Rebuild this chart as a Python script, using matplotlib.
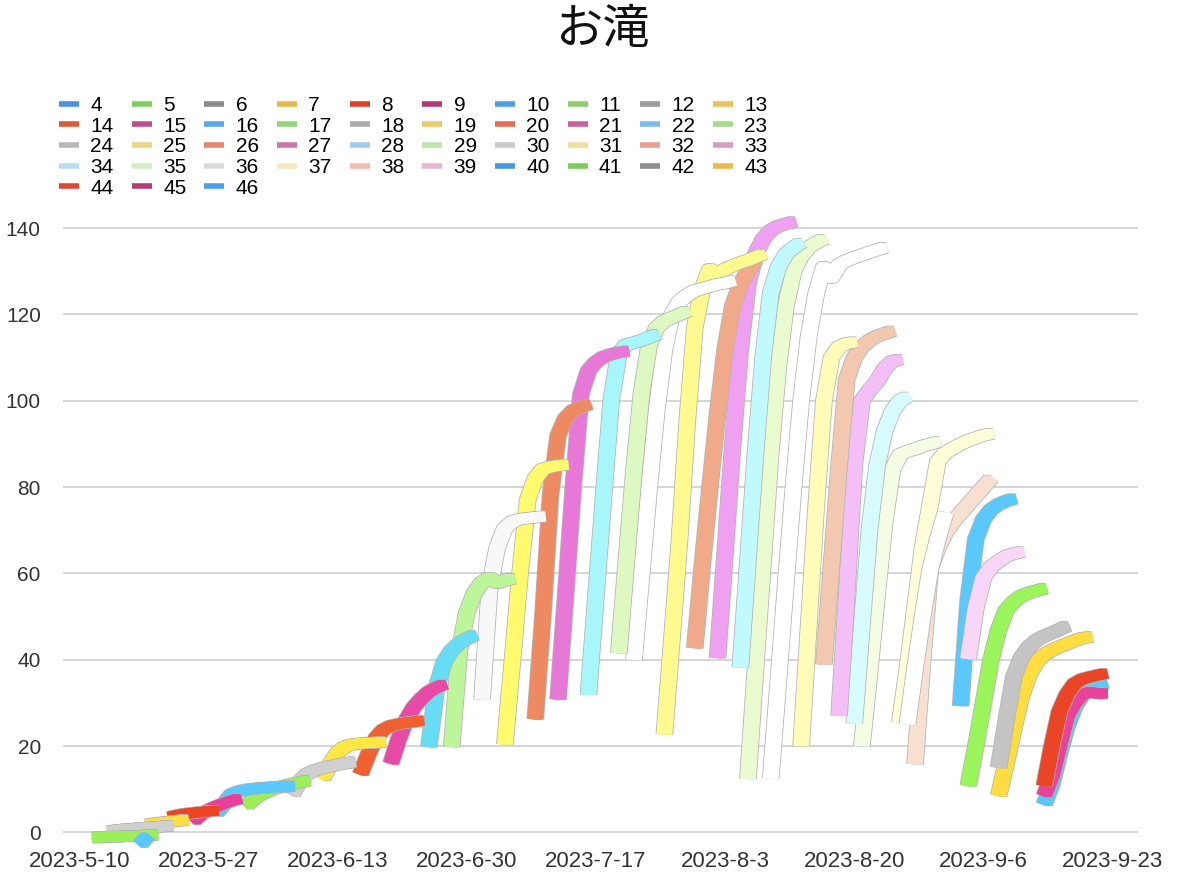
import datetime as dt
import numpy as np
import matplotlib
matplotlib.use("Agg")
import matplotlib.pyplot as plt
import matplotlib.dates as mdates
import matplotlib.transforms as mtransforms
from matplotlib.lines import Line2D
from matplotlib.ticker import FixedLocator, FuncFormatter

plt.rcParams['font.family'] = ['Liberation Sans', 'Noto Sans CJK JP', 'DejaVu Sans']

# ---------------- data ----------------
title = "お滝"
series_names = [str(i) for i in range(4, 47)]
start_dates = [
    "2023-05-18", "2023-05-12", "2023-05-14", "2023-05-19", "2023-05-22", "2023-05-25",  # 4-9
    "2023-05-28", "2023-06-01", "2023-06-07", "2023-06-11", "2023-06-16", "2023-06-20",  # 10-15
    "2023-06-25", "2023-06-28", "2023-07-02", "2023-07-05", "2023-07-09", "2023-07-12",  # 16-21
    "2023-07-16", "2023-07-20", "2023-07-22", "2023-07-26", "2023-07-30", "2023-08-02",  # 22-27
    "2023-08-05", "2023-08-06", "2023-08-09", "2023-08-13", "2023-08-16", "2023-08-18",  # 28-33
    "2023-08-20", "2023-08-21", "2023-08-27", "2023-08-26", "2023-08-28", "2023-09-04",  # 34-39
    "2023-09-03", "2023-09-04", "2023-09-08", "2023-09-08", "2023-09-14", "2023-09-14",  # 40-45
    "2023-09-14",                                                                      # 46
]
v4 = [-2.8, -0.8]
v5 = [-1.2, -1.1, -1.0, -1.0, -0.9, -0.9, -0.8, -0.7, -0.6]
v6 = [0.3, 0.5, 0.7, 0.8, 1.0, 1.1, 1.2, 1.4, 1.5]
v7 = [1.8, 2.1, 2.3, 2.5, 2.7, 2.9]
v8 = [3.6, 4.0, 4.3, 4.5, 4.7, 4.9, 5.0]
v9 = [2.6, 4.2, 5.2, 6.0, 6.7, 7.3, 7.8]
v10 = [4.4, 6.5, 8.8, 9.5, 9.9, 10.1, 10.3, 10.4, 10.5, 10.6, 10.7]
v11 = [6.2, 7.8, 8.9, 9.7, 10.3, 10.8, 11.2, 11.6, 12.0]
v12 = [8.8, 11.8, 13.6, 14.4, 14.9, 15.3, 15.7, 16.0, 16.3]
v13 = [12.5, 15.8, 18.6, 19.9, 20.4, 20.6, 20.7, 20.8, 20.9]
v14 = [13.5, 18.0, 21.8, 23.8, 24.7, 25.1, 25.4, 25.6, 25.9]
v15 = [16.0, 21.5, 26.0, 29.0, 31.0, 32.6, 33.6, 34.3]
v16 = [19.8, 33.5, 39.5, 42.2, 43.8, 44.9, 45.7]
v17 = [19.8, 42, 51, 55.5, 58, 59, 57.8, 58.4, 58.8]
v18 = [30.8, 57, 66, 70.5, 72, 72.6, 72.8, 73.0, 73.2]
v19 = [20.4, 40, 60, 77, 82, 84.2, 84.7, 85, 85.2]
v20 = [26.2, 50, 78, 92, 96, 97.8, 98.5, 99.2]
v21 = [30.8, 55, 80, 101.5, 107, 109, 110.2, 110.8, 111.2, 111.5]
v22 = [31.9, 55, 78, 100, 111, 113, 113.5, 114, 114.7, 115.4]
v23 = [41.5, 63, 84, 102, 113, 117, 118.5, 119.3, 120, 120.8]
v24 = [40, 60, 80, 98, 112, 120, 123, 124.5, 125.5, 126, 126.5, 127, 127.3, 127.8]
v25 = [22.7, 45, 68, 95, 117, 126, 130.5, 129, 130.5, 131.3, 132, 132.6, 133.3, 134]
v26 = [42.7, 62, 80, 97, 112, 122, 127, 130, 132.6]
v27 = [40.4, 65, 90, 112, 127, 134, 137.5, 139.5, 140.5, 141, 141.5]
v28 = [38.2, 63, 88, 110, 125, 131, 134, 135.5, 136.7]
v29 = [12.4, 38, 63, 88, 108, 122, 130, 133.5, 135.5, 136.7, 137.5]
v30 = [12.5, 35, 58, 80, 100, 115, 125, 131, 128.5, 131.5, 132.5, 133.2, 133.8, 134.4, 135, 135.5]
v31 = [20, 48, 76, 100, 110, 112.5, 113.3, 113.6]
v32 = [38.9, 62, 85, 105, 110, 112.5, 114, 115, 115.6, 116.2]
v33 = [27, 55, 85, 100, 102.5, 104.5, 107.5, 109.2, 109.6]
v34 = [25.2, 48, 70, 85, 93, 97.5, 100, 101]
v35 = [20, 37, 55, 72, 84, 87.5, 88.3, 88.8, 89.5, 90, 90.5]
v36 = [25, 38, 50, 61, 68, 74]
v37 = [25.5, 38, 52, 66, 76, 86, 88, 89, 90, 90.8, 91.4, 92, 92.4]
v38 = [15.8, 40, 61, 66, 69.5, 72, 74, 76, 78, 80, 82]
v39 = [40.2, 52, 59, 61.5, 62.8, 64, 64.6, 65]
v40 = [29.3, 54, 68, 72.5, 74.8, 76, 76.8, 77.3]
v41 = [10.8, 20, 30, 40, 47, 51.5, 53.5, 54.8, 55.5, 56, 56.5]
v42 = [15, 26, 36, 40.5, 43, 44.5, 45.5, 46.2, 47, 47.8]
v43 = [8.5, 16, 24, 31.5, 36.5, 39.5, 41.2, 42.2, 43, 43.7, 44.4, 45, 45.3]
v44 = [10.8, 20, 28, 32, 34.5, 35.5, 36, 36.4, 36.8]
v45 = [8.5, 13, 20, 27, 30, 32, 32.5, 32.2, 32.2]
v46 = [6.5, 11, 18, 24.5, 29, 31.8, 33.3, 34, 34.5]
series_values = [v4, v5, v6, v7, v8, v9, v10, v11, v12, v13, v14, v15, v16, v17, v18,
                 v19, v20, v21, v22, v23, v24, v25, v26, v27, v28, v29, v30, v31, v32,
                 v33, v34, v35, v36, v37, v38, v39, v40, v41, v42, v43, v44, v45, v46]
x_tick_dates = ["2023-05-10", "2023-05-27", "2023-06-13", "2023-06-30", "2023-07-17",
                "2023-08-03", "2023-08-20", "2023-09-06", "2023-09-23"]
y_ticks = [0, 20, 40, 60, 80, 100, 120, 140]

# ---------------- styles ----------------
legend_colors = [
    "#4a90e2", "#7ecf5c", "#8b8b8b", "#e8b84a", "#d9442b", "#b03a72",
    "#4e9ee6", "#8bcf6e", "#9e9e9e", "#ebc35c", "#da5b3c", "#bb4f8e",
    "#5aa8ea", "#97d47e", "#ababab", "#edc96c", "#e06f55", "#c7629c",
    "#7fbaee", "#a8db8f", "#b8b8b8", "#efd283", "#e4856d", "#ce76aa",
    "#9ecbf2", "#bee4ab", "#c9c9c9", "#f2de9f", "#eaa08e", "#d89bc1",
    "#bcddf6", "#d4eec7", "#dadada", "#f5e8bf", "#f0bdb1", "#e4b7d2",
    "#4a95e2", "#7dcb5e", "#8f8f8f", "#e8bc4a", "#d94a30", "#b03d76",
    "#4e9fe6",
]
line_colors = [
    "#5ac8fa", "#9bf05a", "#d0d0d0", "#ffdd44", "#ee4422", "#e8409a",
    "#5ac8fa", "#9bf05a", "#d0d0d0", "#ffe844", "#f06030", "#e84aa8",
    "#66ddf5", "#bdf59a", "#f8f8f8", "#fffa6e", "#ee8a62", "#e878d8",
    "#a6f6fa", "#ddf8c0", "#ffffff", "#fffa90", "#f0aa8a", "#f0a0f0",
    "#c0fafe", "#eafbd0", "#ffffff", "#fffbb8", "#f2c8b0", "#f4beF6",
    "#d8fbfd", "#f4fce4", "#ffffff", "#fffcd8", "#f8e0d0", "#f8d6f8",
    "#5ac8fa", "#99f55a", "#c4c4c4", "#ffdd40", "#ea4526", "#e8439a",
    "#5ac8fa",
]

W, H = 1198, 876
fig = plt.figure(figsize=(W / 100, H / 100), dpi=100)
ax_left, ax_right = 63, 1138
ax_top, ax_bot = 206.6, 849.6
ax = fig.add_axes([ax_left / W, 1 - ax_bot / H, (ax_right - ax_left) / W, (ax_bot - ax_top) / H])

base = dt.datetime(2023, 5, 10)
base_num = mdates.date2num(base)

def to_num(s):
    return mdates.date2num(dt.datetime.strptime(s, "%Y-%m-%d"))

px = 72 / 100.0  # points per pixel
lw_px = 10
offsets = [-3.0, -1.5, 0.0, 1.5, 3.0]
n = len(series_names)
for k in range(n):
    x0 = to_num(start_dates[k])
    vals = np.array(series_values[k], dtype=float)
    xs = x0 + np.arange(len(vals))
    zb = 10 + (n - k) * 2
    for dx in offsets:
        tr = mtransforms.offset_copy(ax.transData, fig=fig, x=dx, y=0, units='dots')
        ax.plot(xs, vals, color="#b4b4b4", lw=(lw_px + 1.6) * px, solid_capstyle='butt',
                solid_joinstyle='round', transform=tr, zorder=zb)
    for dx in offsets:
        tr = mtransforms.offset_copy(ax.transData, fig=fig, x=dx, y=0, units='dots')
        ax.plot(xs, vals, color=line_colors[k], lw=lw_px * px, solid_capstyle='butt',
                solid_joinstyle='round', transform=tr, zorder=zb + 1)

ax.set_xlim(base_num - 2.17, base_num + 139.35)
ax.set_ylim(-4, 145)
for s in ax.spines.values():
    s.set_visible(False)
ax.yaxis.set_major_locator(FixedLocator(y_ticks))
ax.yaxis.grid(True, color="#d6d6d6", lw=2.0 * px)
ax.set_axisbelow(True)
ax.xaxis.set_major_locator(FixedLocator([to_num(d) for d in x_tick_dates]))

def fmt_date(v, pos):
    d = mdates.num2date(v)
    return f"{d.year}-{d.month}-{d.day}"

ax.xaxis.set_major_formatter(FuncFormatter(fmt_date))
ax.tick_params(axis='both', length=0, colors="#333333")
ax.tick_params(axis='y', pad=16, labelsize=15)
ax.tick_params(axis='x', pad=1, labelsize=16)

fig.text(0.503, 1 - 30 / H, title, ha='center', va='center', fontsize=34,
         family=['Noto Sans CJK JP', 'DejaVu Sans'], color="#111111")

# legend, row-major order in 10 columns
handles = [Line2D([0], [0], color=c, lw=4.0, solid_capstyle='butt') for c in legend_colors]
order = []
ncol = 10
for c in range(ncol):
    for r in range(5):
        idx = r * ncol + c
        if idx < n:
            order.append(idx)
fig.legend([handles[i] for i in order], [series_names[i] for i in order], ncol=ncol,
           loc='upper left', bbox_to_anchor=(59 / W, 1 - 96 / H), frameon=False,
           fontsize=15, handlelength=0.96, handletextpad=0.55, columnspacing=0.86,
           labelspacing=0.08, borderpad=0, borderaxespad=0)

fig.savefig("out.png", dpi=100)
